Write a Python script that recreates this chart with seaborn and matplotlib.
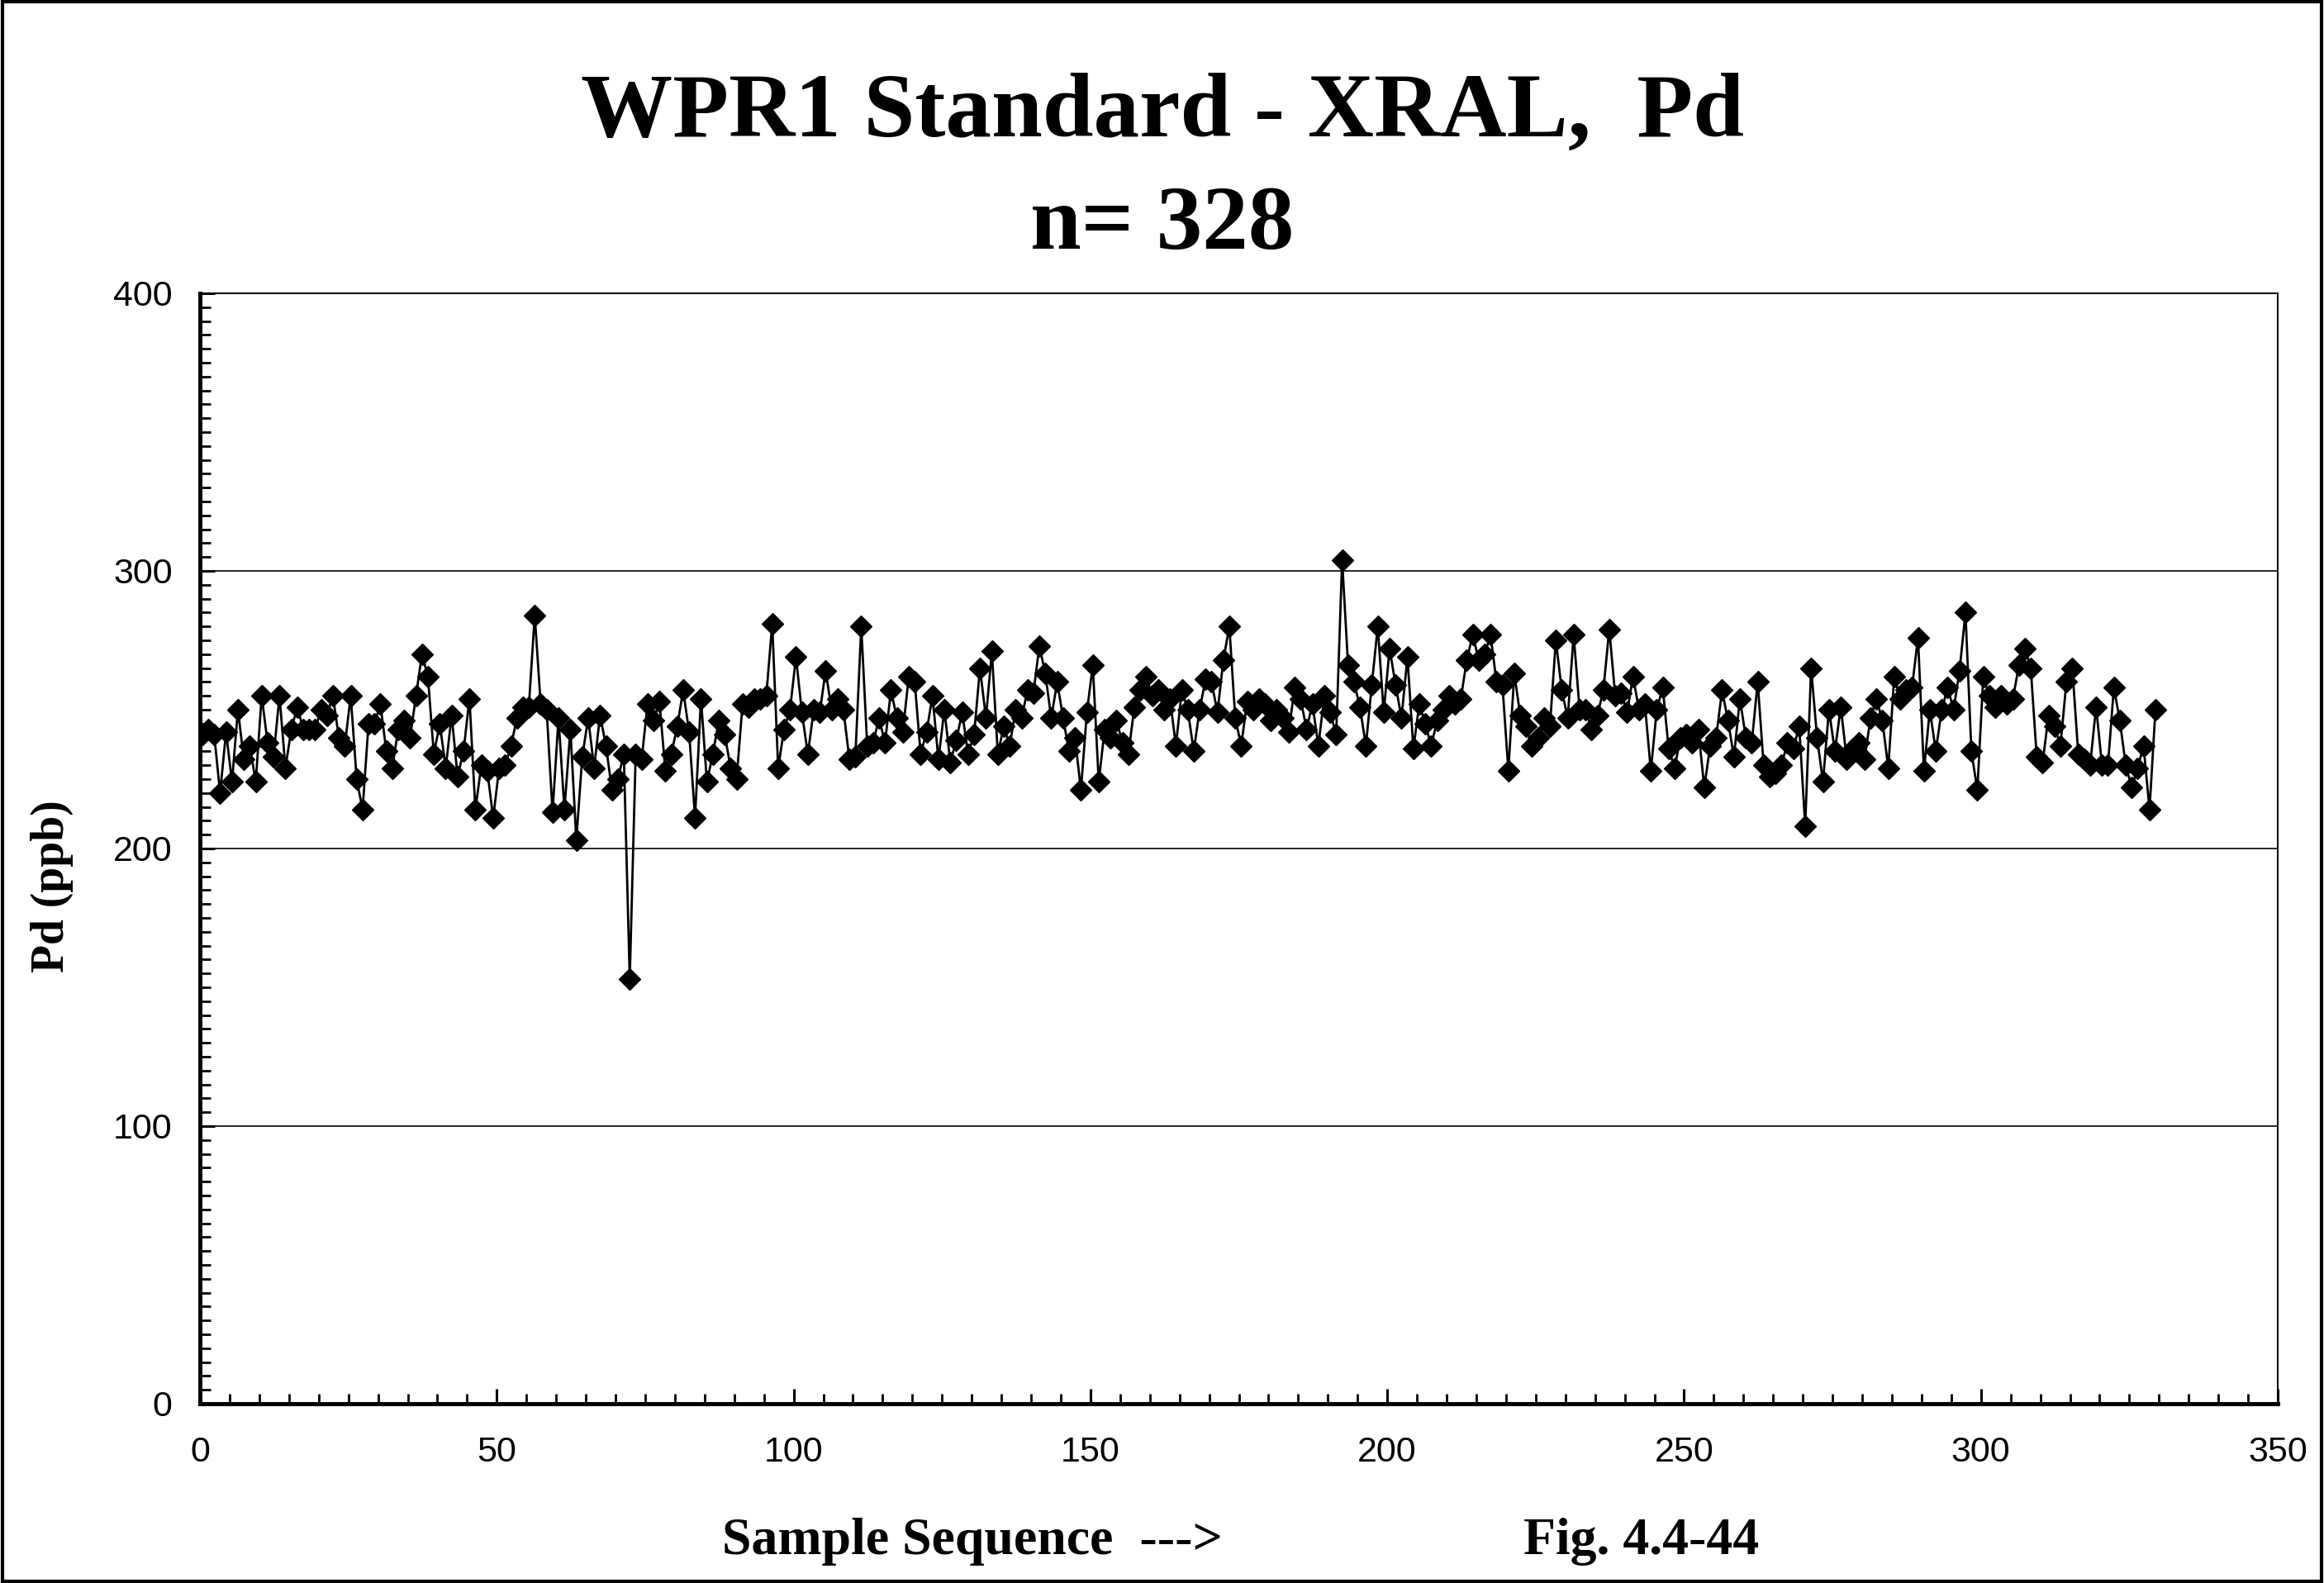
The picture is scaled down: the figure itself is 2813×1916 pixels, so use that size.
import numpy as np
import pandas as pd
import matplotlib
matplotlib.use("Agg")
import matplotlib.pyplot as plt
from matplotlib.ticker import MultipleLocator
from matplotlib.patches import Rectangle
import seaborn as sns

# ---- data ----
title_line1 = "WPR1 Standard - XRAL,  Pd"
title_line2 = "n= 328"
x_label_left = "Sample Sequence  --->"
x_label_right = "Fig. 4.4-44"
y_label = "Pd (ppb)"

pd_ppb = [
    241, 243, 241, 220, 242, 224, 250, 232, 237, 224,
    255, 238, 233, 255, 229, 243, 251, 243, 243, 243,
    250, 248, 255, 240, 237, 255, 225, 214, 245, 245,
    252, 235, 229, 243, 246, 240, 255, 270, 262, 234,
    245, 229, 248, 226, 235, 254, 214, 230, 228, 211,
    229, 230, 237, 247, 251, 251, 284, 252, 250, 213,
    247, 214, 243, 203, 233, 247, 229, 248, 237, 221,
    225, 234, 153, 234, 232, 252, 246, 253, 228, 234,
    244, 257, 242, 211, 254, 224, 234, 246, 241, 229,
    225, 252, 251, 254, 254, 255, 281, 229, 243, 250,
    269, 249, 234, 250, 249, 264, 250, 254, 250, 232,
    233, 280, 237, 238, 247, 238, 257, 247, 242, 262,
    260, 234, 242, 255, 232, 250, 231, 239, 249, 234,
    241, 265, 247, 271, 234, 244, 237, 250, 247, 257,
    256, 273, 263, 247, 260, 247, 235, 240, 221, 249,
    266, 224, 243, 240, 246, 238, 234, 251, 257, 262,
    255, 257, 250, 254, 237, 257, 250, 235, 250, 261,
    260, 249, 268, 280, 247, 237, 253, 250, 254, 252,
    246, 250, 247, 242, 258, 254, 243, 252, 237, 255,
    249, 241, 304, 266, 260, 251, 237, 259, 280, 249,
    272, 259, 247, 269, 236, 252, 245, 237, 246, 250,
    255, 252, 254, 268, 277, 268, 270, 277, 260, 259,
    228, 263, 248, 244, 237, 240, 247, 244, 275, 257,
    247, 277, 250, 250, 243, 248, 257, 279, 255, 256,
    249, 262, 250, 252, 228, 250, 258, 236, 229, 240,
    241, 238, 243, 222, 237, 240, 257, 246, 233, 254,
    240, 238, 260, 230, 226, 227, 230, 238, 236, 244,
    208, 265, 240, 224, 250, 235, 251, 232, 236, 238,
    232, 247, 254, 246, 229, 262, 254, 257, 258, 276,
    228, 250, 235, 250, 258, 250, 264, 285, 235, 221,
    262, 255, 251, 255, 252, 254, 266, 272, 265, 233,
    231, 248, 244, 237, 260, 265, 234, 232, 230, 251,
    230, 230, 258, 246, 230, 222, 229, 237, 214, 250,
]
sample_seq = [i + 0.4 for i in range(len(pd_ppb))]

y_ticks = [0, 100, 200, 300, 400]
x_ticks = [0, 50, 100, 150, 200, 250, 300, 350]

df = pd.DataFrame({"seq": sample_seq, "ppb": pd_ppb})

# ---- styling ----
sns.set_style("white")
plt.rcParams["font.family"] = ["Liberation Sans", "DejaVu Sans"]
plt.rcParams["text.color"] = "black"
plt.rcParams["xtick.color"] = "black"
plt.rcParams["ytick.color"] = "black"
plt.rcParams["axes.labelcolor"] = "black"

W, H, DPI = 2813, 1916, 200
fig = plt.figure(figsize=(W / DPI, H / DPI), dpi=DPI)
ax = fig.add_axes([242 / W, 1 - 1699 / H, (2757 - 242) / W, (1699 - 355) / H])

sns.lineplot(data=df, x="seq", y="ppb", ax=ax, color="black", linewidth=1.0,
             marker="D", markersize=6.8, markeredgecolor="black",
             markerfacecolor="black", markeredgewidth=0.5)

ax.set_xlim(0, 350)
ax.set_ylim(0, 400)
ax.set_xticks(x_ticks)
ax.set_yticks(y_ticks)
ax.xaxis.set_minor_locator(MultipleLocator(5))
ax.yaxis.set_minor_locator(MultipleLocator(5))
ax.tick_params(axis="both", which="both", bottom=True, left=True, top=False, right=False)
ax.tick_params(axis="both", which="major", direction="in", length=6.5, width=1.1,
               labelsize=15.5, colors="black", labelcolor="black")
ax.tick_params(axis="both", which="minor", direction="in", length=4.5, width=1.0,
               colors="black")
ax.tick_params(axis="y", which="major", pad=12)
ax.tick_params(axis="x", which="major", pad=14)
for lab in ax.get_xticklabels() + ax.get_yticklabels():
    lab.set_family(["Liberation Sans", "DejaVu Sans"])
    lab.set_color("black")

ax.grid(False)
for yv in y_ticks[1:-1]:
    ax.axhline(yv, color="black", linewidth=0.6, zorder=0)

for side in ["left", "bottom"]:
    ax.spines[side].set_linewidth(1.8)
    ax.spines[side].set_color("black")
for side in ["top", "right"]:
    ax.spines[side].set_linewidth(0.7)
    ax.spines[side].set_color("black")
    ax.spines[side].set_visible(True)

ax.set_xlabel("")
ax.set_ylabel("")

serif = ["Liberation Serif", "DejaVu Serif"]
fig.text(0.5, 1 - 77 / 1068, title_line1, ha="center", va="center",
         fontsize=40, fontweight="bold", family=serif, color="black")
fig.text(0.5, 1 - 153 / 1068, title_line2, ha="center", va="center",
         fontsize=40, fontweight="bold", family=serif, color="black")
fig.text(487 / 1568, 1 - 1040 / 1068, x_label_left, ha="left", va="center",
         fontsize=23, fontweight="bold", family=serif, color="black")
fig.text(1028 / 1568, 1 - 1040 / 1068, x_label_right, ha="left", va="center",
         fontsize=23, fontweight="bold", family=serif, color="black")
fig.text(35 / 1568, 1 - 598 / 1068, y_label, ha="center", va="center",
         rotation=90, fontsize=20, fontweight="bold", family=serif, color="black")

fig.patches.append(Rectangle((0.001, 0.001), 0.998, 0.998, transform=fig.transFigure,
                             fill=False, edgecolor="black", linewidth=1.5))

fig.savefig("out.png", dpi=DPI, facecolor="white")
